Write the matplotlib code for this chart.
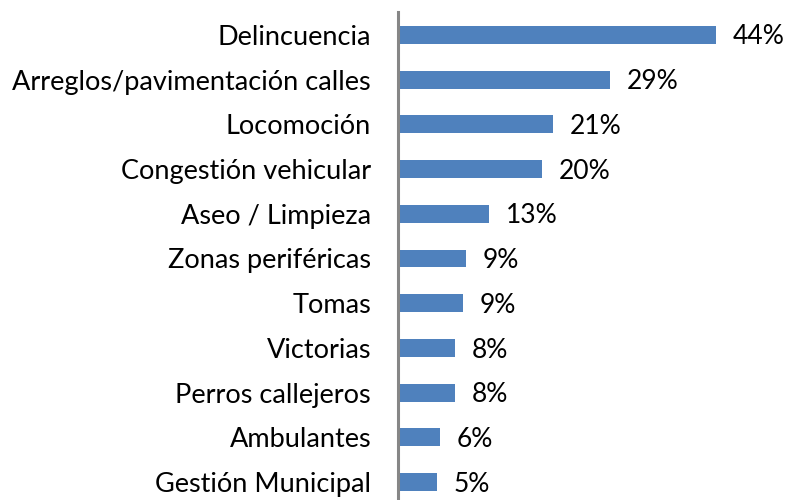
import matplotlib
matplotlib.use('Agg')
import matplotlib.pyplot as plt

categories = ['Delincuencia', 'Arreglos/pavimentación calles', 'Locomoción',
              'Congestión vehicular', 'Aseo / Limpieza', 'Zonas periféricas',
              'Tomas', 'Victorias', 'Perros callejeros', 'Ambulantes',
              'Gestión Municipal']
values = [44.0, 29.4, 21.5, 20.0, 12.6, 9.4, 9.1, 7.9, 7.9, 5.9, 5.5]
labels = ['44%', '29%', '21%', '20%', '13%', '9%', '9%', '8%', '8%', '6%', '5%']

plt.rcParams['font.family'] = ['Lato', 'DejaVu Sans']

fig = plt.figure(figsize=(7.88, 5.0), dpi=100)
ax = fig.add_axes([397.5 / 788, -4.5 / 500, 360 / 788, 492 / 500])

pos = list(range(len(categories)))
ax.barh(pos, values, height=0.4, color='#4F81BD')
ax.set_ylim(len(categories) - 0.5, -0.5)
ax.set_xlim(0, 360 / 7.24)

# value labels sit a touch below bar centre, like the original
for p, v, lab in zip(pos, values, labels):
    ax.annotate(lab, (v, p), xytext=(12, -1.5), textcoords='offset points',
                va='center', ha='left', fontsize=19, color='black')

ax.set_yticks(pos)
ax.set_yticklabels(categories, fontsize=19.5)
ax.tick_params(axis='y', length=0, pad=19)
ax.set_xticks([])
for s in ['top', 'right', 'bottom']:
    ax.spines[s].set_visible(False)
ax.spines['left'].set_color('#868686')
ax.spines['left'].set_linewidth(2.2)

fig.savefig('out.png', dpi=100)
